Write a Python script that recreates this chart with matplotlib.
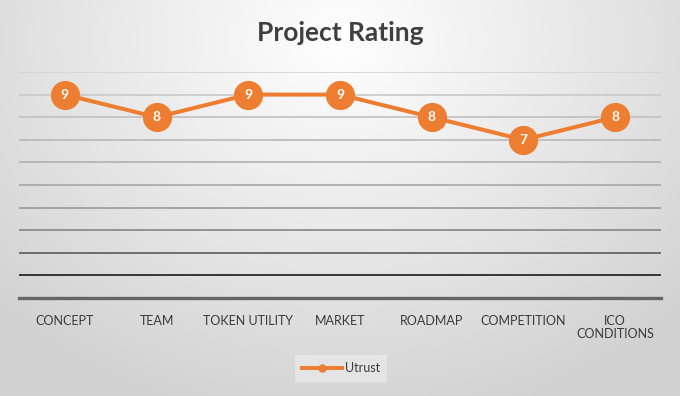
import numpy as np
import matplotlib
matplotlib.use('Agg')
import matplotlib.pyplot as plt

categories = ['CONCEPT', 'TEAM', 'TOKEN UTILITY', 'MARKET', 'ROADMAP',
              'COMPETITION', 'ICO\nCONDITIONS']
ratings = [9, 8, 9, 9, 8, 7, 8]
series_name = 'Utrust'

orange = '#ED7D31'
text_col = '#3a3a3a'
# gridlines get darker towards the bottom
grid_cols = ['#d2d2d2', '#c8c8c8', '#c0c0c0', '#b8b8b8', '#b0b0b0',
             '#a6a6a6', '#9a9a9a', '#858585', '#5a5a5a', '#1a1a1a']

plt.rcParams['font.family'] = ['Lato', 'DejaVu Sans']

fig = plt.figure(figsize=(6.8, 3.96), dpi=100)

# radial gradient background
bg = fig.add_axes([0, 0, 1, 1], zorder=-10)
yy, xx = np.mgrid[0:396, 0:680]
r = np.sqrt(((xx - 340) / 400.0) ** 2 + ((yy - 40) / 330.0) ** 2)
shade = 1.0 - 0.18 * np.clip(r, 0, 1.2) / 1.2
bg.imshow(np.dstack([shade, shade, shade]), aspect='auto', extent=[0, 1, 0, 1])
bg.axis('off')

ax = fig.add_axes([19 / 680, 98 / 396, 642 / 680, 226 / 396])
ax.patch.set_alpha(0)
x = np.arange(len(categories))
ax.set_xlim(-0.5, len(categories) - 0.5)
ax.set_ylim(0, 10)

for lvl, c in zip(range(10, 0, -1), grid_cols):
    ax.axhline(lvl, color=c, lw=1.2, zorder=1)
ax.axhline(0, color='#656565', lw=2.4, zorder=1, clip_on=False)

ax.plot(x, ratings, color=orange, lw=2.9, marker='o', markersize=20,
        markeredgecolor=orange, zorder=3, label=series_name)
for xi, v in zip(x, ratings):
    ax.text(xi, v, str(v), ha='center', va='center', color='white',
            fontsize=10, fontweight='bold', zorder=4)

for s in ax.spines.values():
    s.set_visible(False)
ax.set_yticks([])
ax.set_xticks(x)
ax.set_xticklabels(categories, fontsize=9, color=text_col, va='top',
                   linespacing=1.15)
ax.tick_params(axis='x', length=0, pad=12)

fig.text(0.5, 1 - 33 / 396, 'Project Rating', ha='center', va='center',
         fontsize=19, fontweight='bold', color='#3f3f3f')

handle = plt.Line2D([], [], color=orange, lw=2.8, marker='o', markersize=5)
leg = fig.legend([handle], [series_name], loc='center',
                 bbox_to_anchor=(341 / 680, 1 - 368 / 396), frameon=True,
                 fontsize=9, handlelength=3.2, handletextpad=0.2,
                 borderpad=0.6, fancybox=False)
leg.get_frame().set_facecolor('#e8e8e8')
leg.get_frame().set_edgecolor('none')
for t in leg.get_texts():
    t.set_color(text_col)

fig.savefig('out.png', dpi=100)
